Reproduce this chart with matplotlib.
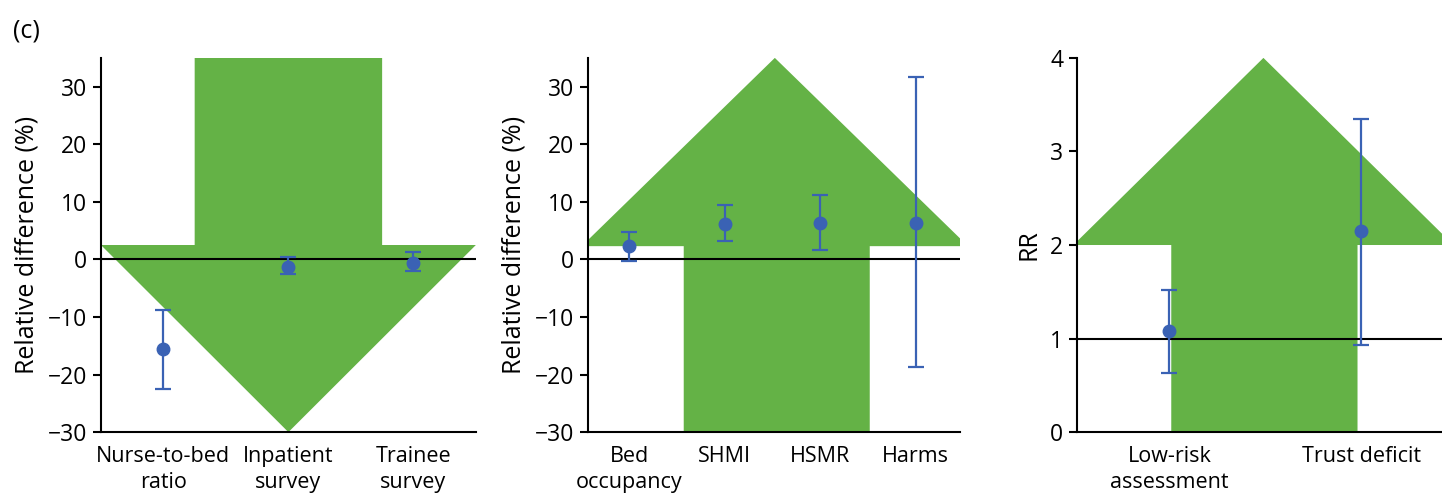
import numpy as np
import matplotlib
matplotlib.use("Agg")
import matplotlib.pyplot as plt
from matplotlib.patches import Polygon

plt.rcParams['font.family'] = ['Open Sans', 'DejaVu Sans']
plt.rcParams['font.size'] = 16.5

GREEN = '#64b246'
BLUE = '#3a62b4'

# panel 1: staffing measures (relative difference, %)
cats1 = ['Nurse-to-bed\nratio', 'Inpatient\nsurvey', 'Trainee\nsurvey']
est1 = [-15.6, -1.3, -0.6]
lo1 = [-22.5, -2.6, -2.0]
hi1 = [-8.8, 0.4, 1.3]

# panel 2: outcome measures (relative difference, %)
cats2 = ['Bed\noccupancy', 'SHMI', 'HSMR', 'Harms']
est2 = [2.4, 6.2, 6.4, 6.4]
lo2 = [-0.3, 3.2, 1.6, -18.7]
hi2 = [4.8, 9.4, 11.2, 31.6]

# panel 3: risk ratios
cats3 = ['Low-risk\nassessment', 'Trust deficit']
est3 = [1.08, 2.15]
lo3 = [0.63, 0.93]
hi3 = [1.52, 3.35]


def arrow(ax, x0, x1, s0, s1, base, tip, end):
    # block arrow: head from x0..x1 at y=base, tip at y=tip, shaft s0..s1 to y=end
    xm = (x0 + x1) / 2.0
    pts = [(x0, base), (s0, base), (s0, end), (s1, end), (s1, base),
           (x1, base), (xm, tip)]
    ax.add_patch(Polygon(pts, closed=True, facecolor=GREEN, edgecolor='none',
                         zorder=1))


def panel(ax, cats, est, lo, hi, xlim, ylim, ref, ylabel):
    x = np.arange(1, len(cats) + 1)
    est = np.array(est)
    yerr = [est - np.array(lo), np.array(hi) - est]
    ax.axhline(ref, color='black', lw=1.5, zorder=2)
    ax.errorbar(x, est, yerr=yerr, fmt='o', color=BLUE, ms=9, elinewidth=1.6,
                capsize=6, capthick=1.6, zorder=3)
    ax.set_xlim(*xlim)
    ax.set_ylim(*ylim)
    ax.set_xticks(x)
    ax.set_xticklabels(cats, linespacing=1.3, fontsize=15.5)
    ax.tick_params(axis='x', length=0, pad=10)
    ax.tick_params(axis='y', length=6, width=1.5, pad=4)
    for s in ['top', 'right']:
        ax.spines[s].set_visible(False)
    for s in ['left', 'bottom']:
        ax.spines[s].set_linewidth(1.5)
    ax.set_ylabel(ylabel, fontsize=18, labelpad=6)


fig = plt.figure(figsize=(14.42, 4.99), dpi=100)
ax1 = fig.add_axes([0.070, 0.134, 0.260, 0.750])
ax2 = fig.add_axes([0.408, 0.134, 0.258, 0.750])
ax3 = fig.add_axes([0.747, 0.134, 0.253, 0.750])

panel(ax1, cats1, est1, lo1, hi1, (0.5, 3.5), (-30, 35), 0, 'Relative difference (%)')
arrow(ax1, 0.5, 3.5, 1.25, 2.75, 2.5, -30, 35)
ax1.set_yticks([-30, -20, -10, 0, 10, 20, 30])

panel(ax2, cats2, est2, lo2, hi2, (0.57, 4.47), (-30, 35), 0, 'Relative difference (%)')
arrow(ax2, 0.5, 4.55, 1.57, 3.52, 2.3, 35, -30)
ax2.set_yticks([-30, -20, -10, 0, 10, 20, 30])

panel(ax3, cats3, est3, lo3, hi3, (0.52, 2.42), (0, 4), 1, 'RR')
arrow(ax3, 0.5, 2.48, 1.01, 1.98, 2.0, 4, 0)
ax3.set_yticks([0, 1, 2, 3, 4])

for ax in (ax1, ax2, ax3):
    ax.set_yticklabels([str(int(t)).replace('-', '\u2212') for t in ax.get_yticks()])

fig.text(0.009, 0.925, '(c)', fontsize=18)

fig.savefig('out.png', dpi=100)
